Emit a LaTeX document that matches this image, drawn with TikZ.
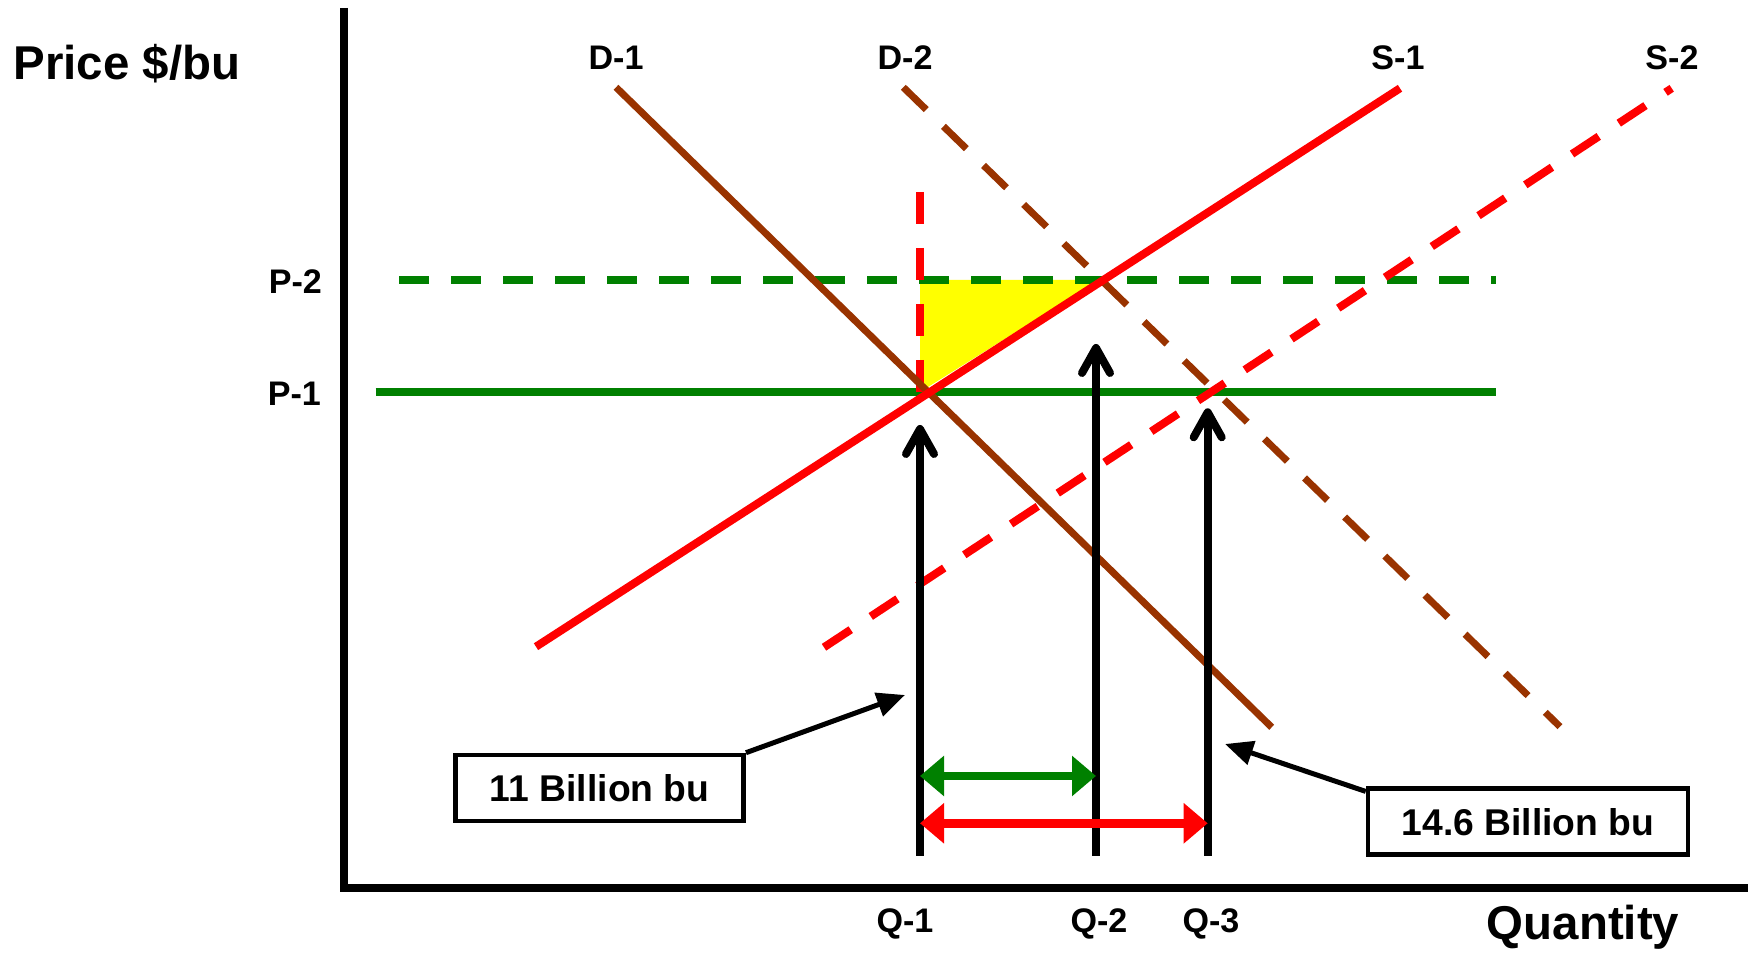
\documentclass[tikz,border=0pt]{standalone}
\usepackage{fontspec}
\setmainfont{Liberation Sans}
\usepackage{xcolor}
\definecolor{sdred}{RGB}{255,0,0}
\definecolor{sdgreen}{RGB}{0,128,0}
\definecolor{sdbrown}{RGB}{153,51,0}
\definecolor{sdyellow}{RGB}{255,255,0}
\usetikzlibrary{arrows.meta,positioning}

\begin{document}
\begin{tikzpicture}[
  lbl/.style={font=\fontsize{9.7}{11}\selectfont\bfseries, anchor=base, inner sep=0pt},
  ttl/.style={font=\fontsize{13.5}{15}\selectfont\bfseries, anchor=base, inner sep=0pt},
  qbox/.style={draw=black, line width=0.045cm, minimum height=0.66cm, inner sep=0pt, font=\fontsize{10.6}{12}\selectfont\bfseries},
  demand/.style={draw=sdbrown, line width=0.07cm},
  supply/.style={draw=sdred, line width=0.08cm},
  pline/.style={draw=sdgreen, line width=0.075cm},
  sdash/.style={dash pattern=on 0.32cm off 0.24cm},
  gdash/.style={dash pattern=on 0.30cm off 0.22cm},
  qarrow/.style={draw=black, line width=0.08cm, -{Straight Barb[round, length=0.25cm, width=0.28cm]}},
  spread/.style={line width=0.085cm, {Triangle[length=0.24cm, width=0.39cm]}-{Triangle[length=0.24cm, width=0.39cm]}},
  callout/.style={draw=black, line width=0.05cm, -{Triangle[length=0.28cm, width=0.24cm]}}
]
  \useasboundingbox (0,0) rectangle (17.48,9.53);

  %% Axes
  \draw[line width=0.077cm] (3.44,9.45) -- (3.44,0.65) -- (17.48,0.65);
  \node[ttl] (ytitle) at (1.27,8.73) {Price \$/bu};
  \node[ttl] (xtitle) at (15.83,0.13) {Quantity};

  %% Surplus triangle
  \fill[sdyellow] (9.20,6.73) -- (10.99,6.73) -- (9.20,5.61) -- cycle;

  %% Price lines
  \draw[pline, gdash] (3.99,6.73) -- (14.96,6.73);
  \draw[pline] (3.757,5.61) -- (14.96,5.61);
  \draw[supply, line width=0.075cm, sdash] (9.20,7.61) -- (9.20,5.61);
  \node[lbl] (p2) at (2.954,6.59) {P-2};
  \node[lbl] (p1) at (2.943,5.476) {P-1};

  %% Demand curves
  \draw[demand] (6.16,8.657) -- (12.717,2.257);
  \draw[demand, sdash] (9.033,8.657) -- (15.60,2.263);
  \node[lbl] (d1) at (6.16,8.83) {D-1};
  \node[lbl] (d2) at (9.05,8.83) {D-2};

  %% Supply curves
  \draw[supply] (5.36,3.063) -- (14.00,8.647);
  \draw[supply, sdash] (8.24,3.057) -- (16.717,8.647);
  \node[lbl] (s1) at (13.98,8.83) {S-1};
  \node[lbl] (s2) at (16.72,8.83) {S-2};

  %% Quantities
  \coordinate (q1b) at (9.20,0.973);
  \coordinate (q1t) at (9.20,5.28);
  \coordinate (q2b) at (10.96,0.973);
  \coordinate (q2t) at (10.96,6.09);
  \coordinate (q3b) at (12.077,0.973);
  \coordinate (q3t) at (12.077,5.447);
  \draw[qarrow] (q1b) -- (q1t);
  \draw[qarrow] (q2b) -- (q2t);
  \draw[qarrow] (q3b) -- (q3t);
  \draw[sdgreen, spread] (9.20,1.77) -- (10.96,1.77);
  \draw[sdred, spread] (9.20,1.297) -- (12.077,1.297);
  \node[lbl] (q1) at (9.05,0.20) {Q-1};
  \node[lbl] (q2) at (10.99,0.20) {Q-2};
  \node[lbl] (q3) at (12.11,0.20) {Q-3};

  %% Callouts
  \node[qbox, minimum width=2.88cm] (box1) at (5.997,1.65) {11 Billion bu};
  \node[qbox, minimum width=3.20cm] (box2) at (15.28,1.313) {14.6 Billion bu};
  \coordinate (c1) at (9.05,2.58);
  \coordinate (c2) at (12.25,2.09);
  \draw[callout] (box1.north east) -- (c1);
  \draw[callout] ([yshift=-0.05cm]box2.north west) -- (c2);
\end{tikzpicture}
\end{document}
